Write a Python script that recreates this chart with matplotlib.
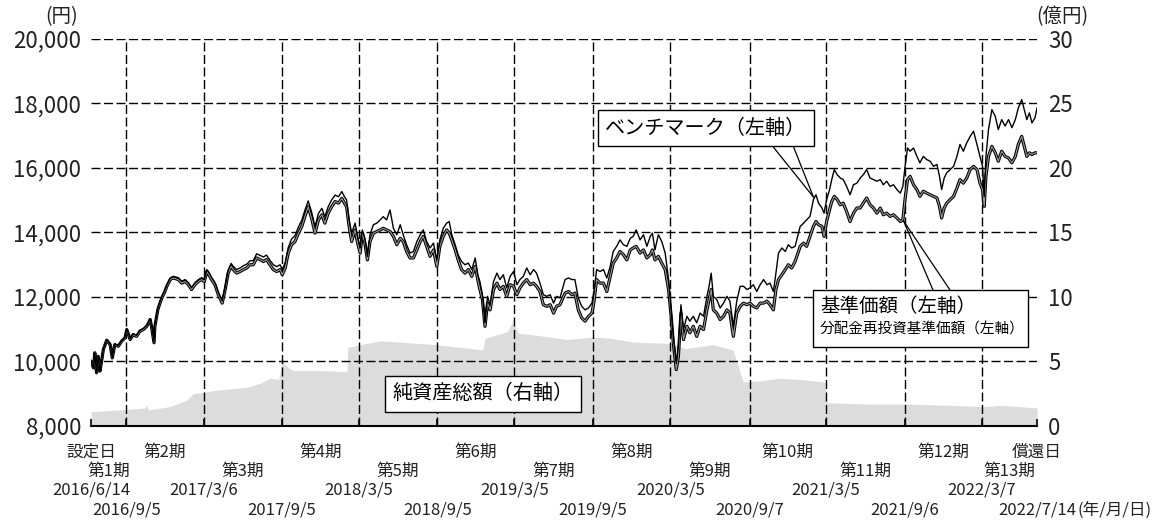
import matplotlib
matplotlib.use("Agg")
import matplotlib.pyplot as plt
import matplotlib.dates as mdates
import matplotlib.transforms as mtransforms
from matplotlib.patches import Rectangle
from matplotlib.ticker import FuncFormatter
import pandas as pd

plt.rcParams["font.family"] = ["Noto Sans CJK JP", "DejaVu Sans"]

# ---------------------------------------------------------------------------
# Data
# ---------------------------------------------------------------------------
START = pd.Timestamp("2016-06-14")

# days since the set date (2016/6/14)
days = [
    0, 6, 9, 13, 17, 21, 25, 29, 37, 45, 50, 56, 64, 72, 80, 84, 92, 99, 107,
    115, 123, 131, 139, 142, 148, 150, 157, 162, 168, 172, 178, 186, 193, 205,
    213, 221, 229, 236, 244, 252, 260, 266, 272, 277, 283, 291, 299, 308, 315,
    322, 329, 334, 342, 350, 358, 366, 373, 381, 389, 397, 405, 412, 420, 428,
    436, 444, 449, 456, 463, 471, 479, 487, 495, 502, 510, 518, 526, 534, 542,
    549, 557, 565, 573, 581, 589, 595, 600, 606, 612, 620, 626, 632, 637, 643,
    649, 655, 663, 671, 679, 686, 694, 702, 710, 718, 726, 733, 741, 749, 757,
    765, 773, 780, 788, 796, 804, 812, 819, 827, 835, 841, 847, 855, 862, 870,
    878, 886, 894, 902, 908, 913, 919, 925, 931, 937, 945, 953, 960, 968, 976,
    984, 992, 1000, 1007, 1015, 1023, 1031, 1039, 1046, 1054, 1062, 1070, 1078,
    1086, 1093, 1101,
    1113, 1121, 1129, 1136, 1144, 1152, 1160, 1168, 1176, 1181, 1187, 1195,
    1203, 1211, 1219, 1226, 1234, 1242, 1250, 1258, 1266, 1273, 1280, 1289,
    1297, 1305, 1313, 1318, 1324, 1332, 1340, 1348, 1356, 1362, 1367, 1374,
    1379, 1385, 1391, 1399, 1406, 1414, 1422, 1430, 1438, 1446, 1451, 1456,
    1461, 1469, 1477, 1485, 1493, 1500, 1508, 1516, 1524, 1532, 1540, 1547,
    1555, 1563, 1571, 1579, 1587, 1594, 1602, 1608, 1614, 1622, 1630, 1637,
    1645, 1653,
    1665, 1673, 1680, 1688, 1696, 1702, 1708, 1716, 1721, 1727, 1734, 1739,
    1745, 1752, 1759, 1766, 1774, 1782, 1790, 1798, 1806, 1813, 1821, 1829,
    1837, 1845, 1853, 1860, 1868, 1876, 1884, 1892, 1900, 1906, 1911, 1917,
    1923, 1931, 1939, 1946, 1954, 1962, 1970, 1978, 1986, 1992, 1997, 2003,
    2009, 2017, 2025, 2033, 2040, 2048, 2056, 2064, 2072, 2080, 2087, 2093,
    2097, 2101, 2107, 2115, 2123, 2130, 2138, 2146, 2154, 2162, 2170, 2177,
    2185, 2191, 2197, 2203, 2209, 2216, 2221,
]

# 基準価額 (yen)
nav = [
    10000, 9800, 10270, 9650, 10160, 9700, 10010, 10370, 10660, 10525, 10110,
    10525, 10470, 10630, 10730, 10990, 10680, 10830, 10780, 10940, 10990,
    11090, 11300, 11090, 10580, 11090, 11610, 11810, 12020, 12120, 12330,
    12540, 12590, 12540, 12430, 12480, 12380, 12230, 12380, 12480, 12540,
    12480, 12790, 12690, 12540, 12380, 12070, 11810, 12230, 12740, 12950,
    12850, 12740, 12790, 12850, 12900, 13000, 13000, 13210, 13160, 13100,
    13160, 13000, 12850, 12790, 12850, 12690, 12900, 13360, 13620, 13720,
    13980, 14190, 14490, 14800, 14440, 13980, 14390, 14550,
    14290, 14600, 14800, 14960, 14910, 15060, 14910, 14800, 14190, 13720,
    14080, 13670, 13360, 13980, 13670, 13150, 13720, 13980, 14030, 14080,
    14130, 14080, 14030, 13880, 13620, 13820, 13720, 13410, 13210, 13210,
    13460, 13720, 13880, 13570, 13260, 13460, 12950, 13570, 13880, 14080,
    13980, 13770, 13460, 13150, 12850, 12740, 12850, 12640, 12950, 12540,
    12230, 11920, 11090, 11810, 11600, 12230, 12430, 12230, 12330, 12020,
    12380, 12330, 12070, 12280, 12430, 12540, 12380, 12430, 12330, 12170,
    11760, 11710, 11760, 11500, 11710, 11760,
    12120, 12170, 12070, 12120, 11600, 11350, 11250, 11400, 11500, 11870,
    12540, 12430, 12430, 12170, 12640, 13050, 13210, 13410, 13310, 13150,
    13460, 13520, 13570, 13360, 13460, 13210, 13310, 13460, 13150, 13260,
    13050, 12850, 12230, 11400, 10580, 9750, 10160, 11500, 10680, 11090,
    10890, 11090, 10780, 11090, 10990, 11600, 11920, 12230, 11600, 11500,
    11300, 11400, 11600, 11500, 10780, 11500, 11710, 11810, 11760, 11810,
    11710, 11660, 11810, 11810, 11870, 11760, 11600, 12230, 12540, 12690,
    12850, 13000, 12900, 13100,
    13570, 13670, 13570, 13880, 14190, 14340, 14240, 14190, 13880, 14340,
    14710, 14960, 15120, 15020, 14860, 14910, 14650, 14340, 14600, 14760,
    14760, 14910, 15070, 14860, 14760, 14600, 14760, 14550, 14600, 14500,
    14550, 14450, 14340, 14390, 15020, 15640, 15740, 15480, 15330, 15120,
    15280, 15220, 15170, 15120, 15070, 14810, 14450, 14760, 14910, 15020,
    15120, 15380, 15640, 15530, 15690, 15950, 16050, 15950, 15530, 15330,
    14810, 15740, 16360, 16670, 16470, 16210, 16520, 16360, 16310, 16160,
    16360, 16730, 16980, 16670, 16360, 16470, 16420, 16470, 16470,
]

# 分配金再投資基準価額 (yen) -- no distributions, same as nav
reinvest = list(nav)

# ベンチマーク (yen)
bench = [
    10000, 9800, 10270, 9650, 10160, 9700, 10010, 10380, 10680, 10540, 10120,
    10540, 10490, 10650, 10750, 11010, 10700, 10860, 10810, 10970, 11020,
    11120, 11330, 11120, 10600, 11120, 11640, 11850, 12060, 12160, 12370,
    12590, 12640, 12600, 12490, 12540, 12440, 12290, 12440, 12540, 12600,
    12540, 12850, 12760, 12610, 12450, 12140, 11880, 12300, 12830, 13040,
    12950, 12850, 12900, 12970, 13020, 13120, 13130, 13340, 13290, 13240,
    13300, 13140, 13000, 12940, 13000, 12850, 13060, 13530, 13800, 13900,
    14170, 14380, 14680, 14980, 14630, 14180, 14590, 14750,
    14490, 14800, 15010, 15160, 15110, 15270, 15110, 15010, 14390, 13980,
    14290, 13880, 13520, 14080, 13820, 13260, 13930, 14240, 14290, 14390,
    14490, 14390, 14700, 14130, 13930, 14240, 13930, 13620, 13360, 13410,
    13720, 13930, 14080, 13720, 13520, 13670, 13150, 13770, 14130, 14290,
    14340, 13930, 13620, 13310, 13100, 13000, 13050, 12850, 13210, 12690,
    12480, 12070, 11200, 12020, 11760, 12480, 12740, 12540, 12690, 12280,
    12640, 12790, 12380, 12540, 12640, 12900, 12690, 12850, 12740, 12430,
    12070, 12020, 12070, 11810, 12020, 11970,
    12540, 12590, 12540, 12540, 11970, 11710, 11600, 11660, 11810, 12170,
    12850, 12790, 12850, 12590, 12950, 13410, 13570, 13770, 13620, 13570,
    13820, 13880, 14080, 13770, 13930, 13570, 13880, 13980, 13460, 13930,
    13720, 13360, 12540, 11600, 10780, 9950, 10470, 11760, 10990, 11400,
    11250, 11400, 11200, 11500, 11400, 12020, 12330, 12740, 12020, 11920,
    11660, 11810, 12020, 11870, 11090, 11870, 12330, 12330, 12230, 12280,
    12380, 12170, 12380, 12540, 12380, 12430, 12170, 12740, 13360, 13520,
    13410, 13620, 13520, 13570,
    14190, 14290, 14390, 14500, 15020, 15170, 14910, 14760, 14600, 15020,
    15330, 15640, 15950, 15790, 15690, 15640, 15430, 15170, 15480, 15530,
    15690, 15790, 15950, 15690, 15640, 15590, 15640, 15480, 15590, 15430,
    15480, 15330, 15220, 15430, 16030, 16620, 16520, 16620, 16360, 16160,
    16360, 16260, 16210, 16050, 16110, 15740, 15330, 15690, 15850, 15950,
    16050, 16360, 16730, 16520, 16780, 16980, 17140, 16730, 16360, 16050,
    15120, 16360, 17190, 17810, 17600, 17190, 17500, 17300, 17500, 17250,
    17500, 17860, 18120, 17810, 17500, 17710, 17400, 17550, 17860,
]

# 純資産総額 (100 million yen)
asset_days = [
    0, 45, 92, 127, 131, 136, 185, 225, 240, 303, 366, 397, 420, 441, 448,
    460, 474, 538, 601, 603, 632, 679, 726, 812, 866, 920, 925, 977, 991,
    1003, 1054, 1118, 1179, 1219, 1273, 1360, 1395, 1460, 1507, 1517, 1531,
    1571, 1618, 1665, 1723, 1728, 1829, 1914, 2017, 2094, 2134, 2221,
]
net_assets = [
    1.1, 1.2, 1.3, 1.4, 1.6, 1.25, 1.5, 2.0, 2.5, 2.8, 3.0, 3.3, 3.7, 3.6,
    5.1, 4.6, 4.3, 4.3, 4.2, 6.1, 6.3, 6.6, 6.5, 6.3, 6.1, 5.9, 6.8, 7.3,
    8.1, 7.2, 7.0, 6.7, 6.9, 6.8, 6.5, 6.4, 6.0, 6.3, 5.9, 4.9, 3.4, 3.5,
    3.7, 3.6, 3.4, 1.8, 1.7, 1.7, 1.6, 1.5, 1.6, 1.4,
]

period_dates = [
    "2016-06-14", "2016-09-05", "2017-03-06", "2017-09-05", "2018-03-05",
    "2018-09-05", "2019-03-05", "2019-09-05", "2020-03-05", "2020-09-07",
    "2021-03-05", "2021-09-06", "2022-03-07", "2022-07-14",
]
date_labels = [
    "2016/6/14", "2016/9/5", "2017/3/6", "2017/9/5", "2018/3/5", "2018/9/5",
    "2019/3/5", "2019/9/5", "2020/3/5", "2020/9/7", "2021/3/5", "2021/9/6",
    "2022/3/7", "2022/7/14",
]
period_names = [f"第{i}期" for i in range(1, 14)]

left_ticks = [8000, 10000, 12000, 14000, 16000, 18000, 20000]
right_ticks = [0, 5, 10, 15, 20, 25, 30]

BM_CALLOUT = ("2021-02-04", 15100)
NAV_CALLOUT = ("2021-09-04", 14350)

# ---------------------------------------------------------------------------
# Plot
# ---------------------------------------------------------------------------
dates = START + pd.to_timedelta(days, unit="D")
asset_dates = START + pd.to_timedelta(asset_days, unit="D")
pdates = pd.to_datetime(period_dates)
pnum = mdates.date2num(pdates.to_pydatetime())

fig = plt.figure(figsize=(11.56, 5.27), dpi=100)
ax = fig.add_axes([0.0787, 0.1917, 0.8184, 0.7343])
ax2 = ax.twinx()
ax.set_zorder(ax2.get_zorder() + 1)
ax.patch.set_visible(False)

# net assets area (right axis)
ax2.fill_between(asset_dates, net_assets, 0, color="#dcdcdc", lw=0)
ax2.set_ylim(0, 30)
ax2.set_yticks(right_ticks)
ax2.tick_params(axis="y", length=0, pad=8, labelsize=16, labelcolor="#222222")
for s in ax2.spines.values():
    s.set_visible(False)

# lines (left axis)
ax.plot(dates, nav, color="black", lw=2.3, solid_joinstyle="round", zorder=3)
ax.plot(dates, reinvest, color="#9a9a9a", lw=0.8, zorder=4)
ax.plot(dates, bench, color="black", lw=1.0, zorder=5)

ax.set_xlim(pnum[0], pnum[-1])
ax.set_ylim(8000, 20000)
ax.set_yticks(left_ticks)
ax.yaxis.set_major_formatter(FuncFormatter(lambda v, p: f"{int(v):,}"))
ax.tick_params(axis="y", length=0, pad=7, labelsize=16, labelcolor="#222222")

dash = (0, (6.5, 2.5))
ax.yaxis.grid(True, color="black", linestyle=dash, lw=1.0)
for d in pnum[1:-1]:
    ax.axvline(d, color="black", linestyle=dash, lw=1.0, zorder=1.5)

ax.set_xticks(pnum)
ax.set_xticklabels([])
ax.tick_params(axis="x", direction="in", length=5, width=1.2, color="black")

for name, s in ax.spines.items():
    s.set_visible(name == "bottom")
ax.spines["bottom"].set_linewidth(1.5)

# x-axis labels in four staggered rows
trans = mtransforms.blended_transform_factory(ax.transData, ax.transAxes)
xfont = dict(size=12, color="#222222", ha="center", va="center")
rows = [-0.067, -0.116, -0.165, -0.217]
ax.text(pnum[0], rows[0], "設定日", transform=trans, **xfont)
ax.text(pnum[-1], rows[0], "償還日", transform=trans, **xfont)
for k, name in enumerate(period_names, start=1):
    mid = (pnum[k - 1] + pnum[k]) / 2
    row = rows[0] if k % 2 == 0 else rows[1]
    ax.text(mid, row, name, transform=trans, **xfont)
last_label = None
for i, lab in enumerate(date_labels):
    row = rows[2] if i % 2 == 0 else rows[3]
    last_label = ax.text(pnum[i], row, lab, transform=trans, **xfont)
ax.annotate("(年/月/日)", xy=(1, 0.5), xycoords=last_label,
            xytext=(1, 0), textcoords="offset points",
            ha="left", va="center", fontsize=12, color="#222222")

# axis unit labels
fig.text(62 / 1156, 1 - 17 / 527, "(円)", ha="center", va="center",
         fontsize=14, color="#222222")
fig.text(1062 / 1156, 1 - 17 / 527, "(億円)", ha="center", va="center",
         fontsize=14, color="#222222")

# callout boxes
box = dict(boxstyle="square,pad=0.35", fc="white", ec="black", lw=1.0)
ax.text(0.650, 0.770, "ベンチマーク（左軸）", transform=ax.transAxes,
        ha="center", va="center", fontsize=14.5, bbox=box, zorder=10)
ax.text(0.4144, 0.0827, "純資産総額（右軸）", transform=ax.transAxes,
        ha="center", va="center", fontsize=14.5, bbox=box, zorder=10)

ax.add_patch(Rectangle((0.7632, 0.2041), 0.2273, 0.1473, transform=ax.transAxes,
                       fc="white", ec="black", lw=1.0, zorder=10, clip_on=False))
ax.text(0.7706, 0.310, "基準価額（左軸）", transform=ax.transAxes,
        ha="left", va="center", fontsize=14, zorder=11)
ax.text(0.7706, 0.248, "分配金再投資基準価額（左軸）", transform=ax.transAxes,
        ha="left", va="center", fontsize=10.5, zorder=11)

leader = dict(arrowstyle="-", color="black", lw=0.9, shrinkA=0, shrinkB=0)
bm_xy = (mdates.date2num(pd.Timestamp(BM_CALLOUT[0])), BM_CALLOUT[1])
nav_xy = (mdates.date2num(pd.Timestamp(NAV_CALLOUT[0])), NAV_CALLOUT[1])
for fx in (0.7178, 0.741):
    ax.annotate("", xy=bm_xy, xycoords="data", xytext=(fx, 0.7313),
                textcoords="axes fraction", arrowprops=leader, zorder=9)
for fx in (0.890, 0.908):
    ax.annotate("", xy=nav_xy, xycoords="data", xytext=(fx, 0.3514),
                textcoords="axes fraction", arrowprops=leader, zorder=9)

fig.savefig("out.png", dpi=100)
plt.close(fig)
